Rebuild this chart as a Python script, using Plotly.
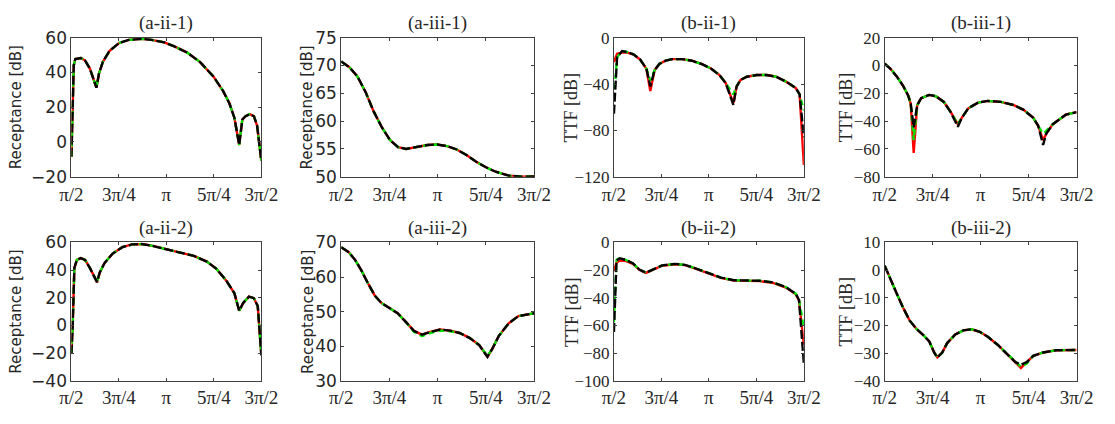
import plotly.graph_objects as go

# ---------------------------------------------------------------------------
# Angle (degrees) and response levels (dB) for each panel.
# red = reference solution, green / black = the two approximations.
# ---------------------------------------------------------------------------

# (a-ii-1) receptance
a2_1_theta = [90, 92.2, 93.7, 98.9, 103, 107.5, 113.7, 116.2, 119.8, 126, 135.2, 144.5,
              156.8, 166, 178, 187.5, 199.8, 212, 224.5, 233.7, 239.8, 244.5, 249,
              252, 255, 259, 263, 266, 270]
a2_1_val = [-8.5, 44, 47.7, 48.3, 46.8, 42.2, 31.2, 39.5, 46, 52.3, 56.9, 58.7,
            59.3, 58.7, 57.3, 55, 51.4, 45.9, 37.7, 29.4, 22.1, 13.8, -1.7,
            12.9, 14.8, 16, 14.8, 9.3, -10.9]

# (a-iii-1) receptance
a3_1_theta = [90, 97.6, 105.2, 112.8, 120.4, 127.9, 135.5, 143.1, 150.7, 158.3, 170.4,
              179.6, 188.7, 197.8, 206.9, 216, 225.1, 234.2, 246.3, 258.5, 270]
a3_1_val = [70.7, 69.7, 68.0, 65.2, 61.7, 58.9, 56.6, 55.3, 55.0, 55.3, 55.7,
            55.8, 55.5, 54.9, 53.9, 52.7, 51.7, 50.9, 50.2, 50.0, 50.05]

# (b-ii-1) TTF
b2_1_theta = [90, 93, 97.7, 102.3, 108.5, 114.6, 120.8, 124.5, 128.5, 133, 139, 145.4,
              154.6, 163.8, 173, 182.3, 190, 196, 203.2, 206.3, 210, 216, 225.4,
              234.6, 243.8, 253, 262.2, 266, 270]
b2_1_red = [-21, -14, -12.8, -12.8, -14.6, -18.7, -27, -46, -28.2, -22.7, -19.9, -18.5,
            -18.5, -19.9, -22.7, -26.8, -32.3, -39.3, -56.4, -42, -36.5, -33.7, -32.3,
            -32.3, -33.7, -37.9, -43.4, -49, -109.8]
b2_1_green = [-53, -17, -11.6, -12.4, -14.4, -18.5, -26.8, -37, -28.2, -22.7, -19.9, -18.5,
              -18.5, -19.9, -22.7, -26.8, -32.3, -39.3, -49, -42, -36.5, -33.7, -32.3,
              -32.3, -33.7, -37.9, -43.4, -49, -62.8]
b2_1_black = [-65.5, -17, -11.6, -12.4, -14.4, -18.5, -26.8, -42, -28.2, -22.7, -19.9, -18.5,
              -18.5, -19.9, -22.7, -26.8, -32.3, -39.3, -58, -42, -36.5, -33.7, -32.3,
              -32.3, -33.7, -37.9, -43.4, -49, -86]

# (b-iii-1) TTF
b3_1_theta = [90, 95.2, 101.3, 107.4, 112, 114.4, 117.2, 120.5, 124.2, 131.8, 137.9,
              145.5, 151.6, 158.6, 162.3, 168.4, 177.5, 186.7, 198.9, 211.1, 220.3,
              229.4, 234, 238.6, 241.6, 247.7, 253.8, 259.9, 270]
b3_1_red = [1.2, -2.2, -7.9, -14.8, -21.6, -27.4, -62.8, -28.5, -23.5, -21.2, -22.1,
            -26.2, -33.1, -42.2, -37.7, -30.8, -26.7, -25.5, -26.2, -28.5, -31.9,
            -37.7, -43.4, -53.7, -49, -42.2, -38.8, -35.4, -33.5]
b3_1_green = [1.2, -2.2, -7.9, -14.8, -21.6, -27.4, -53.7, -28.5, -23.5, -21.2, -22.1,
              -26.2, -33.1, -42.2, -37.7, -30.8, -26.7, -25.5, -26.2, -28.5, -31.9,
              -37.7, -43.4, -49, -47, -42.2, -38.8, -35.4, -33.5]
b3_1_black = [1.2, -2.2, -7.9, -14.8, -21.6, -27.4, -44.5, -28.5, -23.5, -21.2, -22.1,
              -26.2, -33.1, -44, -37.7, -30.8, -26.7, -25.5, -26.2, -28.5, -31.9,
              -37.7, -43.4, -57.1, -49, -42.2, -38.8, -35.4, -33.5]

# (a-ii-2) receptance
a2_2_theta = [90, 91.2, 92.8, 95.2, 98.9, 102.9, 107.5, 114.3, 116.8, 121.4, 129.1,
              138.3, 147.5, 156.8, 166, 178.3, 190.6, 206, 218.3, 227.5, 236.8, 244.5,
              249, 252.8, 258.3, 262.9, 266.6, 270]
a2_2_val = [-20.5, -0.2, 41.6, 47.4, 48.7, 47.4, 41.6, 31.3, 38.2, 45.1, 52,
            56.6, 58.6, 58.9, 57.7, 55.4, 53.1, 50.3, 46.2, 40.9, 32.4, 23.2,
            10.6, 16.3, 20.8, 19.7, 14, -21.6]

# (a-iii-2) receptance
a3_2_theta = [90, 97, 103.1, 109.2, 115.3, 121.4, 127.5, 135.1, 142.7, 150.3, 157.9,
              165.5, 173.2, 182.3, 191.4, 200.5, 209.7, 218.8, 226.5, 231, 237,
              246.3, 255.4, 270]
a3_2_val = [68.6, 67.2, 64.9, 61.7, 58, 54.6, 52.5, 51.1, 49.5, 47, 44.4,
            43.3, 44.1, 44.8, 44.5, 43.8, 42.4, 40.3, 36.9, 39.2, 42.9,
            46.6, 48.7, 49.5]
a3_2_green = [68.6, 67.2, 64.9, 61.7, 58, 54.6, 52.5, 51.1, 49.5, 47, 44.1,
              42.9, 43.8, 44.5, 44.3, 43.8, 42.4, 40.3, 37.2, 39.2, 42.9,
              46.6, 48.7, 49.5]

# (b-ii-2) TTF
b2_2_theta = [90, 92.5, 95.6, 101.7, 107.9, 114.1, 120.3, 126.4, 135.7, 148, 157.3,
              166.6, 178.9, 191.3, 203.6, 216, 228.3, 240.7, 253, 262.3, 265.4, 270]
b2_2_red = [-20.8, -14.5, -13, -13.5, -15.5, -19.8, -22, -19.8, -16.8, -15.8, -16.4,
            -18.7, -22.1, -25.6, -27.5, -27.9, -28, -29.2, -32.6, -37.5, -42, -73.9]
b2_2_green = [-57.7, -12.7, -11.5, -12.7, -15, -19.6, -21.9, -19.6, -16.6, -15.5, -16.2,
              -18.5, -21.9, -25.4, -27.3, -27.7, -27.7, -28.9, -32.3, -37, -41.6, -61.2]
b2_2_black = [-64.7, -12.7, -11.5, -12.7, -15, -19.6, -21.9, -19.6, -16.6, -15.5, -16.2,
              -18.5, -21.9, -25.4, -27.3, -27.7, -27.7, -28.9, -32.3, -37, -41.6, -87.8]

# (b-iii-2) TTF
b3_2_theta = [90, 95.2, 101.3, 107.4, 113.5, 119.6, 125.7, 131.8, 136.4, 139.4, 144,
              148.6, 156.2, 163.8, 171.5, 179.1, 186.7, 195.9, 205, 212.7, 217.8,
              223.3, 229.4, 238.6, 250.8, 270]
b3_2_red = [1.6, -3.3, -8.5, -13.7, -18.3, -21.2, -23.3, -25.8, -29.8, -31.6, -29.8,
            -26.4, -23.3, -21.8, -21.4, -22.3, -24.1, -27, -30.4, -33.3, -35.4,
            -33.3, -31, -29.8, -29, -28.9]
b3_2_green = [1.6, -3.3, -8.5, -13.7, -18.3, -21.2, -23.3, -25.8, -29.8, -31.6, -29.8,
              -26.4, -23.3, -21.8, -21.4, -22.3, -24.1, -27, -30.4, -33.3, -35,
              -33.8, -31, -29.8, -29, -28.9]
b3_2_black = [1.6, -3.3, -8.5, -13.7, -18.3, -21.2, -23.3, -25.8, -29.8, -31.6, -29.8,
              -26.4, -23.3, -21.8, -21.4, -22.3, -24.1, -27, -30.4, -33.3, -34.2,
              -33.3, -31, -29.8, -29, -28.9]

x_tick_vals = [90, 135, 180, 225, 270]
x_tick_text = ["π/2", "3π/4", "π", "5π/4", "3π/2"]

panels = [
    # title, y label, theta, red, green, black, y range, y ticks
    ("(a-ii-1)", "Receptance [dB]", a2_1_theta, a2_1_val, a2_1_val, a2_1_val,
     [-20, 60], [-20, 0, 20, 40, 60]),
    ("(a-iii-1)", "Receptance [dB]", a3_1_theta, a3_1_val, a3_1_val, a3_1_val,
     [50, 75], [50, 55, 60, 65, 70, 75]),
    ("(b-ii-1)", "TTF [dB]", b2_1_theta, b2_1_red, b2_1_green, b2_1_black,
     [-120, 0], [-120, -80, -40, 0]),
    ("(b-iii-1)", "TTF [dB]", b3_1_theta, b3_1_red, b3_1_green, b3_1_black,
     [-80, 20], [-80, -60, -40, -20, 0, 20]),
    ("(a-ii-2)", "Receptance [dB]", a2_2_theta, a2_2_val, a2_2_val, a2_2_val,
     [-40, 60], [-40, -20, 0, 20, 40, 60]),
    ("(a-iii-2)", "Receptance [dB]", a3_2_theta, a3_2_val, a3_2_green, a3_2_val,
     [30, 70], [30, 40, 50, 60, 70]),
    ("(b-ii-2)", "TTF [dB]", b2_2_theta, b2_2_red, b2_2_green, b2_2_black,
     [-100, 0], [-100, -80, -60, -40, -20, 0]),
    ("(b-iii-2)", "TTF [dB]", b3_2_theta, b3_2_red, b3_2_green, b3_2_black,
     [-40, 10], [-40, -30, -20, -10, 0, 10]),
]

W, H = 1115, 424
col_px = [(61, 256), (338, 536), (618, 813), (896, 1093)]
row_px = [(29, 175), (244, 389)]
# left edge of the rotated y-axis label, pixels (first column uses the axis title)
ylabel_left_px = [None, 292, 562, 844]

SERIF = "Liberation Serif"
SANS = "DejaVu Sans"
TXT = "#262626"
AX = "#404040"

fig = go.Figure()
annotations = []

for i, (title, ylab, th, r, g, k, yr, yt) in enumerate(panels):
    row, col = divmod(i, 4)
    n = i + 1
    xa = "x" if n == 1 else f"x{n}"
    ya = "y" if n == 1 else f"y{n}"
    x0, x1 = col_px[col]
    top, bot = row_px[row]
    xdom = [x0 / W, x1 / W]
    ydom = [1 - bot / H, 1 - top / H]

    for yv, color, dash in ((r, "#ff0000", "solid"),
                            (g, "#00e000", "6px,4px"),
                            (k, "#000000", "9px,3px")):
        fig.add_trace(go.Scatter(x=th, y=yv, mode="lines", xaxis=xa, yaxis=ya,
                                 line=dict(color=color, width=2.4, dash=dash),
                                 showlegend=False, hoverinfo="skip"))

    if col < 2:
        tick_font_y = dict(family=SANS, size=17, color=TXT)
        label_font = dict(family=SANS, size=15, color=TXT)
    else:
        tick_font_y = dict(family=SERIF, size=17, color=TXT)
        label_font = dict(family=SERIF, size=18, color=TXT)

    common = dict(showline=True, linecolor=AX, linewidth=1, mirror="ticks",
                  ticks="inside", ticklen=3, tickcolor=AX, showgrid=False,
                  zeroline=False)
    yaxis = dict(domain=ydom, range=yr, anchor=xa, tickvals=yt,
                 tickfont=tick_font_y, **common)
    if col == 0:
        yaxis["title"] = dict(text=ylab, font=label_font, standoff=5)
    else:
        annotations.append(dict(text=ylab, x=ylabel_left_px[col] / W,
                                y=1 - (top + bot) / 2 / H,
                                xref="paper", yref="paper", xanchor="left", yanchor="middle",
                                textangle=-90, showarrow=False, font=label_font))

    fig.layout[("xaxis" if n == 1 else f"xaxis{n}")] = dict(
        domain=xdom, range=[90, 270], anchor=ya, tickvals=x_tick_vals,
        ticktext=x_tick_text, tickfont=dict(family=SERIF, size=19, color=TXT), **common)
    fig.layout[("yaxis" if n == 1 else f"yaxis{n}")] = yaxis

    annotations.append(dict(text=title, x=(x0 + x1) / 2 / W, y=1 - (top - 2) / H,
                            xref="paper", yref="paper", xanchor="center", yanchor="bottom",
                            showarrow=False, font=dict(family=SERIF, size=19, color=TXT)))

fig.update_layout(width=W, height=H, margin=dict(l=0, r=0, t=0, b=0),
                  paper_bgcolor="white", plot_bgcolor="white",
                  annotations=annotations)

fig.write_html("out.html")
